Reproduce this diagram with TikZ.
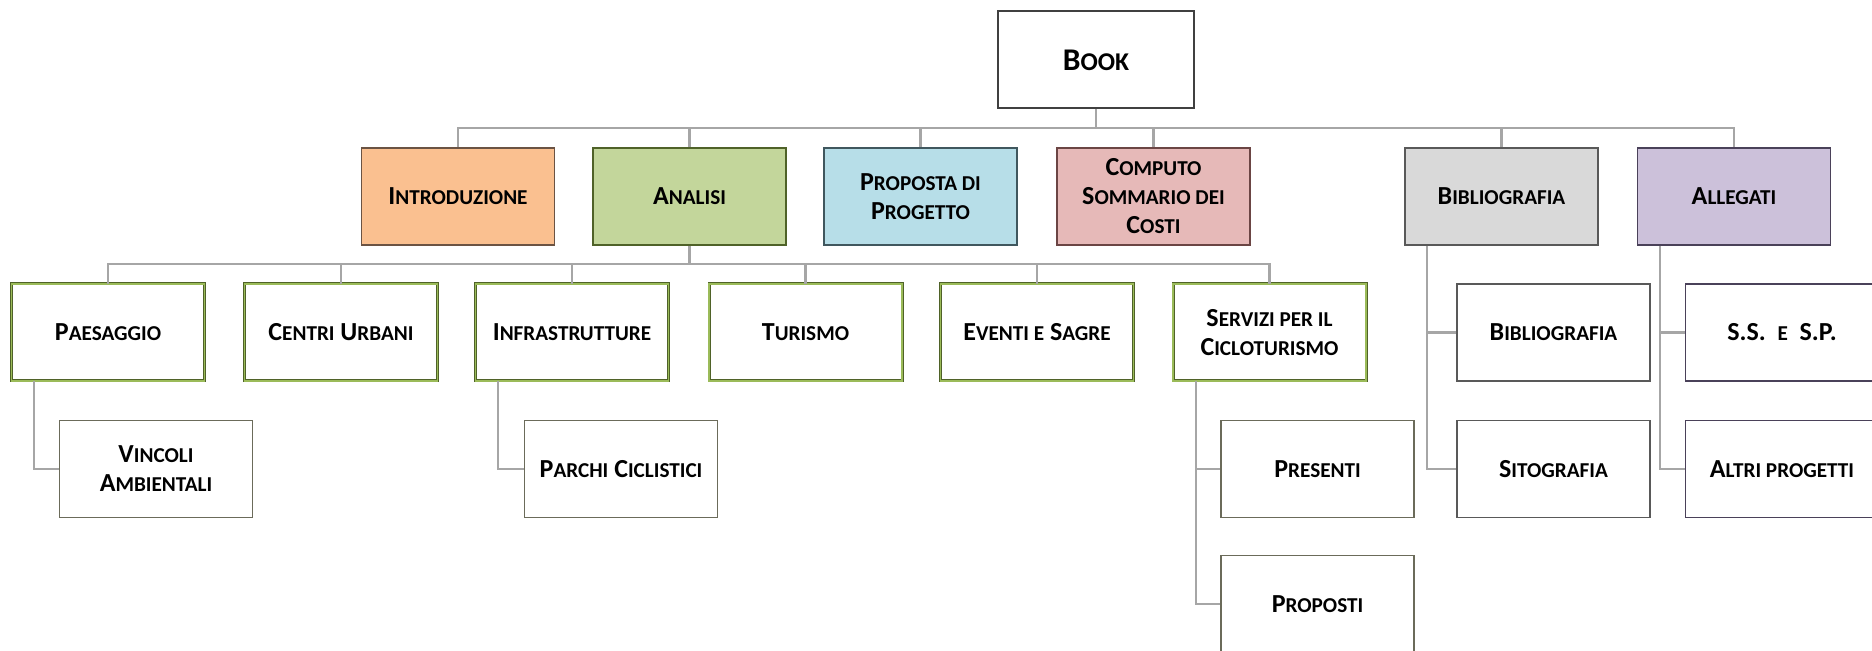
\documentclass[tikz,border=0pt]{standalone}
\usepackage{fontspec}
\setmainfont{Carlito}
\usepackage{tikz}
\usetikzlibrary{positioning}

\definecolor{linegray}{HTML}{A6A6A6}
\definecolor{introfill}{HTML}{FAC090}
\definecolor{introdraw}{HTML}{6B5343}
\definecolor{analfill}{HTML}{C3D69B}
\definecolor{analdraw}{HTML}{4F6228}
\definecolor{propfill}{HTML}{B7DEE8}
\definecolor{propdraw}{HTML}{40575E}
\definecolor{compfill}{HTML}{E6B9B8}
\definecolor{compdraw}{HTML}{6B4544}
\definecolor{bibfill}{HTML}{D9D9D9}
\definecolor{bibdraw}{HTML}{595959}
\definecolor{allfill}{HTML}{CCC1DA}
\definecolor{alldraw}{HTML}{4A4159}
\definecolor{greendraw}{HTML}{4F6228}
\definecolor{greenlight}{HTML}{9BBB59}
\definecolor{leafdraw}{HTML}{6B6B5A}

% small capitals, faked
\newcommand{\lo}[1]{{\fontsize{10.6}{14.5}\selectfont #1}}
\newcommand{\lobook}[1]{{\fontsize{12.8}{18}\selectfont #1}}

\tikzset{link/.style={draw=linegray, line width=1.1pt}}
\tikzset{box/.style={draw, rectangle, minimum width=96.5pt, minimum height=48.5pt, align=center, inner sep=2pt, line width=0.9pt, fill=white, font=\bfseries\fontsize{13}{14.5}\selectfont}}

\begin{document}
\begin{tikzpicture}[x=0.5pt, y=-0.5pt]
	% Default look for the boxes
	\tikzstyle{topbox}=[box, draw=black!75, line width=1pt, minimum width=98pt, font=\bfseries\fontsize{15.8}{18}\selectfont];
	\tikzstyle{greenbox}=[box, draw=greendraw, line width=0.35pt, double=greenlight, double distance=0.8pt];
	\tikzstyle{leafbox}=[box, draw=leafdraw];

	\useasboundingbox (0,0) rectangle (1872,651);
	\clip (0,0) rectangle (1872,651);

	% TOP
	\node[topbox] (book) at (1096,60) {B\lobook{OOK}};
	\coordinate (topbus) at (1096,128);

	% FIRST ROW
	\node[box, fill=introfill, draw=introdraw] (intro) at (458,196.5) {I\lo{NTRODUZIONE}};
	\node[box, fill=analfill, draw=analdraw] (analisi) at (689.5,196.5) {A\lo{NALISI}};
	\node[box, fill=propfill, draw=propdraw] (proposta) at (920.5,196.5) {P\lo{ROPOSTA DI}\\P\lo{ROGETTO}};
	\node[box, fill=compfill, draw=compdraw] (computo) at (1153.5,196.5) {C\lo{OMPUTO}\\S\lo{OMMARIO DEI}\\C\lo{OSTI}};
	\node[box, fill=bibfill, draw=bibdraw] (biblio) at (1501.5,196.5) {B\lo{IBLIOGRAFIA}};
	\node[box, fill=allfill, draw=alldraw] (allegati) at (1734,196.5) {A\lo{LLEGATI}};

	% ANALISI ROW
	\coordinate (midbus) at (689.5,264);
	\node[greenbox] (paesaggio) at (108,332.5) {P\lo{AESAGGIO}};
	\node[greenbox] (centri) at (341,332.5) {C\lo{ENTRI} U\lo{RBANI}};
	\node[greenbox] (infra) at (572,332.5) {I\lo{NFRASTRUTTURE}};
	\node[greenbox] (turismo) at (805.5,332.5) {T\lo{URISMO}};
	\node[greenbox] (eventi) at (1037,332.5) {E\lo{VENTI E} S\lo{AGRE}};
	\node[greenbox] (servizi) at (1269.5,332.5) {S\lo{ERVIZI PER IL}\\C\lo{ICLOTURISMO}};

	% LEAVES
	\node[leafbox] (vincoli) at (156,469) {V\lo{INCOLI}\\A\lo{MBIENTALI}};
	\node[leafbox] (parchi) at (621,469) {P\lo{ARCHI} C\lo{ICLISTICI}};
	\node[leafbox] (presenti) at (1317.5,469) {P\lo{RESENTI}};
	\node[leafbox] (proposti) at (1317.5,604) {P\lo{ROPOSTI}};
	\node[box, draw=bibdraw] (bib) at (1553.5,332.5) {B\lo{IBLIOGRAFIA}};
	\node[box, draw=bibdraw] (sito) at (1553.5,469) {S\lo{ITOGRAFIA}};
	\node[box, draw=alldraw] (ssp) at (1782,332.5) {S.S.\ \ \lo{E}\ \ S.P.};
	\node[box, draw=alldraw] (altri) at (1782,469) {A\lo{LTRI PROGETTI}};

	% Book to first row
	\draw[link] (book.south) -- (topbus) -| (intro.north);
	\draw[link] (topbus) -| (analisi.north);
	\draw[link] (topbus) -| (proposta.north);
	\draw[link] (topbus) -| (computo.north);
	\draw[link] (topbus) -| (biblio.north);
	\draw[link] (topbus) -| (allegati.north);

	% Analisi to its row
	\draw[link] (analisi.south) -- (midbus) -| (paesaggio.north);
	\draw[link] (midbus) -| (centri.north);
	\draw[link] (midbus) -| (infra.north);
	\draw[link] (midbus) -| (turismo.north);
	\draw[link] (midbus) -| (eventi.north);
	\draw[link] (midbus) -| (servizi.north);

	% Elbows down the left sides
	\draw[link] (paesaggio.south west) ++(23,0) |- (vincoli.west);
	\draw[link] (infra.south west) ++(23,0) |- (parchi.west);
	\draw[link] (servizi.south west) ++(23,0) |- (presenti.west);
	\draw[link] (servizi.south west) ++(23,0) |- (proposti.west);
	\draw[link] (biblio.south west) ++(23,0) |- (bib.west);
	\draw[link] (biblio.south west) ++(23,0) |- (sito.west);
	\draw[link] (allegati.south west) ++(23,0) |- (ssp.west);
	\draw[link] (allegati.south west) ++(23,0) |- (altri.west);
\end{tikzpicture}
\end{document}
